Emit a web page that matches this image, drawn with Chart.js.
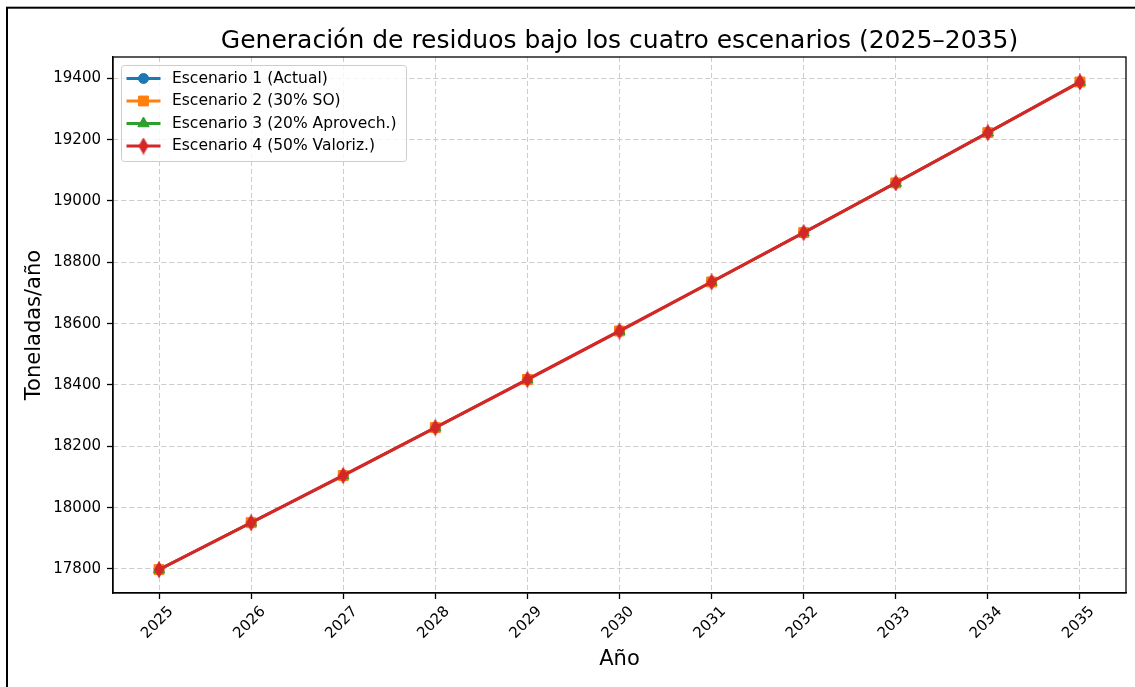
<!DOCTYPE html>
<html>
<head>
<meta charset="utf-8">
<script src="https://cdn.jsdelivr.net/npm/chart.js@4/dist/chart.umd.min.js"></script>
<style>
  html, body { margin: 0; padding: 0; background: #ffffff; }
  canvas { display: block; }
</style>
</head>
<body>
<canvas id="c" width="1135" height="687"></canvas>
<script>
// ---- data ----
const years = ['2025','2026','2027','2028','2029','2030','2031','2032','2033','2034','2035'];
const escenario1 = [17798, 17951, 18105, 18261, 18418, 18576, 18736, 18897, 19059, 19223, 19388];
const escenario2 = [17798, 17951, 18105, 18261, 18418, 18576, 18736, 18897, 19059, 19223, 19388];
const escenario3 = [17798, 17951, 18105, 18261, 18418, 18576, 18736, 18897, 19059, 19223, 19388];
const escenario4 = [17798, 17951, 18105, 18261, 18418, 18576, 18736, 18897, 19059, 19223, 19388];
const seriesNames = ['Escenario 1 (Actual)', 'Escenario 2 (30% SO)', 'Escenario 3 (20% Aprovech.)', 'Escenario 4 (50% Valoriz.)'];
const yTicks = [17800, 18000, 18200, 18400, 18600, 18800, 19000, 19200, 19400];
const titleText = 'Generación de residuos bajo los cuatro escenarios (2025–2035)';
const xLabel = 'Año';
const yLabel = 'Toneladas/año';

const FONT = "'DejaVu Sans', sans-serif";

// thin diamond marker (matplotlib 'd')
function thinDiamond(color) {
  const cv = document.createElement('canvas');
  cv.width = 12; cv.height = 17;
  const g = cv.getContext('2d');
  g.beginPath();
  g.moveTo(6, 1); g.lineTo(10.3, 8.5); g.lineTo(6, 16); g.lineTo(1.7, 8.5); g.closePath();
  g.fillStyle = color; g.fill();
  g.lineWidth = 1.2; g.strokeStyle = color; g.stroke();
  return cv;
}

const colors = ['#1f77b4', '#ff7f0e', '#2ca02c', '#d62728'];
const styles = ['circle', 'rect', 'triangle', thinDiamond(colors[3])];
const radii = [5, 7, 6.5, 7];
const widths = [2.4, 2.4, 2.4, 3.2];
const values = [escenario1, escenario2, escenario3, escenario4];

const datasets = values.map((v, i) => ({
  label: seriesNames[i],
  data: v,
  borderColor: colors[i],
  backgroundColor: colors[i],
  pointBackgroundColor: colors[i],
  pointBorderColor: colors[i],
  pointStyle: styles[i],
  pointRadius: radii[i],
  pointBorderWidth: 1,
  borderWidth: widths[i],
  tension: 0,
  fill: false,
  order: 3 - i
}));

// background + outer frame
const framePlugin = {
  id: 'frame',
  beforeDraw(chart) {
    const ctx = chart.ctx;
    ctx.save();
    ctx.fillStyle = '#ffffff';
    ctx.fillRect(0, 0, chart.width, chart.height);
    ctx.strokeStyle = '#000';
    ctx.lineWidth = 2;
    ctx.strokeRect(7, 7.7, 3000, 3000);
    ctx.restore();
  }
};

// top/right spines + legend inside plot
const boxLegendPlugin = {
  id: 'boxLegend',
  afterDatasetsDraw(chart) {
    const ctx = chart.ctx;
    const a = chart.chartArea;
    ctx.save();
    ctx.strokeStyle = '#000';
    ctx.lineWidth = 1.3;
    ctx.strokeRect(a.left, a.top, a.right - a.left, a.bottom - a.top);

    // legend
    const bx = a.left + 8.5, by = a.top + 8.5, bw = 285, bh = 96;
    ctx.beginPath();
    ctx.roundRect(bx, by, bw, bh, 3);
    ctx.fillStyle = 'rgba(255,255,255,0.8)';
    ctx.fill();
    ctx.strokeStyle = '#cccccc';
    ctx.lineWidth = 1;
    ctx.stroke();
    ctx.font = '15.5px ' + FONT;
    ctx.textBaseline = 'middle';
    ctx.textAlign = 'left';
    chart.data.datasets.forEach((ds, i) => {
      const cy = by + 13 + i * 22.5;
      const x1 = bx + 5, x2 = bx + 39, mx = (x1 + x2) / 2;
      ctx.strokeStyle = ds.borderColor;
      ctx.lineWidth = 3.2;
      ctx.beginPath(); ctx.moveTo(x1, cy); ctx.lineTo(x2, cy); ctx.stroke();
      ctx.fillStyle = ds.pointBackgroundColor;
      ctx.strokeStyle = ds.pointBorderColor;
      ctx.lineWidth = 1;
      Chart.helpers.drawPoint(ctx, { pointStyle: ds.pointStyle, radius: ds.pointRadius, borderWidth: 1, rotation: 0 }, mx, cy);
      ctx.fillStyle = '#000';
      ctx.fillText(ds.label, bx + 50.5, cy);
    });
    ctx.restore();
  }
};

const ctx = document.getElementById('c').getContext('2d');
new Chart(ctx, {
  type: 'line',
  data: { labels: years, datasets: datasets },
  options: {
    responsive: false,
    animation: false,
    devicePixelRatio: 1,
    layout: { padding: { left: 18, right: 9, top: 0, bottom: 0 } },
    plugins: {
      legend: { display: false },
      tooltip: { enabled: false },
      title: {
        display: true,
        text: titleText,
        fullSize: false,
        color: '#000',
        font: { family: FONT, size: 25, weight: 'normal' },
        padding: { top: 26, bottom: 1 }
      }
    },
    scales: {
      x: {
        type: 'category',
        offset: true,
        afterFit(s) { s.height = 94; },
        grid: { offset: false, color: '#cccccc', lineWidth: 1, drawTicks: true, tickLength: 6, tickColor: '#000', tickWidth: 1.3, tickBorderDash: [] },
        border: { display: true, color: '#000', width: 1.3, dash: [5, 3] },
        ticks: {
          autoSkip: false, minRotation: 45, maxRotation: 45, labelOffset: 12, padding: 4,
          color: '#000', font: { family: FONT, size: 15 }
        },
        title: { display: true, text: xLabel, color: '#000', font: { family: FONT, size: 21 }, padding: { top: 4, bottom: 15 } }
      },
      y: {
        type: 'linear',
        min: 17721.7,
        max: 19469.5,
        afterFit(s) { s.width = 95; },
        afterBuildTicks(s) { s.ticks = yTicks.map(v => ({ value: v })); },
        grid: { color: '#cccccc', lineWidth: 1, drawTicks: true, tickLength: 6, tickColor: '#000', tickWidth: 1.3, tickBorderDash: [] },
        border: { display: true, color: '#000', width: 1.3, dash: [5, 3] },
        ticks: {
          padding: 6, color: '#000', font: { family: FONT, size: 15 },
          callback: (v) => String(v)
        },
        title: { display: true, text: yLabel, color: '#000', font: { family: FONT, size: 21 }, padding: { top: 4, bottom: 4 } }
      }
    }
  },
  plugins: [framePlugin, boxLegendPlugin]
});
</script>
</body>
</html>
